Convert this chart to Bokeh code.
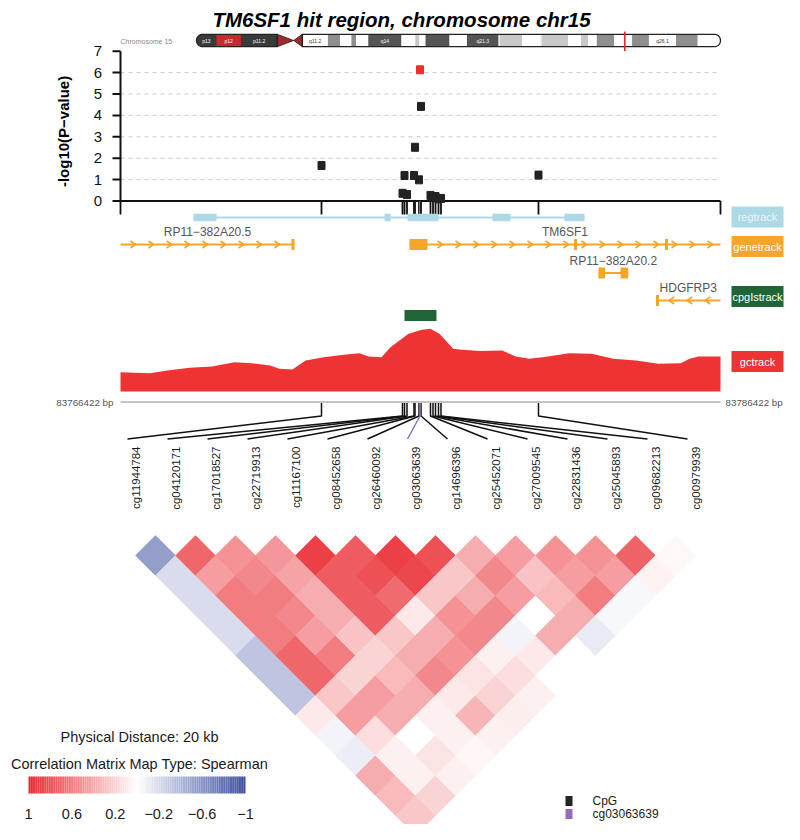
import math
from bokeh.plotting import figure
from bokeh.models import Range1d
from bokeh.embed import file_html
from bokeh.resources import INLINE
from bokeh.core.properties import value

FONT = value("Liberation Sans")

# ======================= data =======================
plot_title = "TM6SF1 hit region, chromosome chr15"
chrom_label = "Chromosome 15"
chrom_length_mb = 102.5
region_start = 83766422
region_end = 83786422
distance_label = "Physical Distance: 20 kb"
matrix_label = "Correlation Matrix Map Type: Spearman"

band_names = ["p13", "p12", "p11.2", "p11.1", "q11.1", "q11.2", "q12", "q13.1", "q13.2", "q13.3",
              "q14", "q15.1", "q15.2", "q15.3", "q21.1", "q21.2", "q21.3", "q22.1", "q22.2", "q22.31",
              "q22.32", "q22.33", "q23", "q24.1", "q24.2", "q24.3", "q25.1", "q25.2", "q25.3", "q26.1",
              "q26.2", "q26.3"]
band_start_mb = [0.0, 3.9, 8.7, 15.8, 19.0, 20.7, 25.7, 28.1, 30.3, 31.2, 33.6, 40.1, 42.8, 43.6, 44.8,
                 49.5, 52.9, 59.1, 59.3, 63.7, 67.2, 67.3, 67.5, 72.7, 75.2, 76.6, 78.3, 81.7, 85.2,
                 88.5, 93.8, 98.0]
band_end_mb = [3.9, 8.7, 15.8, 19.0, 20.7, 25.7, 28.1, 30.3, 31.2, 33.6, 40.1, 42.8, 43.6, 44.8, 49.5,
               52.9, 59.1, 59.3, 63.7, 67.2, 67.3, 67.5, 72.7, 75.2, 76.6, 78.3, 81.7, 85.2, 88.5,
               93.8, 98.0, 102.5]
band_stain = ["gvar", "stalk", "gvar", "acen", "acen", "gneg", "gpos50", "gneg", "gpos50", "gneg",
              "gpos75", "gneg", "gpos25", "gneg", "gpos75", "gneg", "gpos75", "gneg", "gpos25", "gneg",
              "gpos25", "gneg", "gpos25", "gneg", "gpos25", "gneg", "gpos50", "gneg", "gpos50", "gneg",
              "gpos50", "gneg"]
labelled_bands = ["p13", "p12", "p11.2", "q11.2", "q14", "q21.3", "q26.1"]

cpg_names = ["cg11944784", "cg04120171", "cg17018527", "cg22719913", "cg11167100",
             "cg08452658", "cg26460092", "cg03063639", "cg14696396", "cg25452071",
             "cg27009545", "cg22831436", "cg25045893", "cg09682213", "cg00979939"]
cpg_pos = [83773122, 83775822, 83775889, 83775972, 83776205, 83776239, 83776372,
           83776405, 83776439, 83776755, 83776839, 83776922, 83777022, 83777105, 83780355]
cpg_logp = [1.66, 0.36, 1.19, 0.30, 1.19, 2.51, 0.99, 6.13, 4.42, 0.26, 0.18, 0.21, 0.10, 0.12, 1.21]
lead_cpg = "cg03063639"
pv_ticks = [0, 1, 2, 3, 4, 5, 6, 7]
pv_grid = [1, 2, 3, 4, 5, 6]
pv_title = "-log10(P\u2212value)"

reg_span = [83768855, 83781889]
reg_start = [83768855, 83775222, 83775989, 83778822, 83781222]
reg_end = [83769622, 83775422, 83777022, 83779422, 83781889]

gene_names = ["RP11\u2212382A20.5", "TM6SF1", "RP11\u2212382A20.2", "HDGFRP3"]
gene_start = [83766422, 83776055, 83782355, 83784272]
gene_end = [83772222, 83786422, 83783345, 83786422]
gene_strand = ["+", "+", "+", "-"]
gene_row = [0, 0, 1, 2]
exon_gene = [0, 1, 1, 1, 2, 2, 3]
exon_start = [83772122, 83776055, 83781539, 83784572, 83782355, 83783089, 83784272]
exon_end = [83772222, 83776655, 83781639, 83784672, 83782572, 83783345, 83784372]

cpg_island_start = [83775889]
cpg_island_end = [83776955]

gc_pos_kb = [0.0, 0.97, 1.57, 2.3, 3.05, 3.8, 4.39, 4.99, 5.29, 5.73, 6.17, 6.77, 7.52, 7.97, 8.27,
             8.7, 9.0, 9.6, 10.05, 10.33, 10.63, 11.09, 11.39, 11.98, 12.73, 13.17, 13.62, 14.07,
             14.96, 15.7, 16.43, 17.19, 17.93, 18.67, 18.97, 19.27, 20.0]
gc_frac = [0.452, 0.447, 0.461, 0.476, 0.483, 0.505, 0.500, 0.488, 0.470, 0.467, 0.514, 0.532, 0.546,
           0.553, 0.536, 0.532, 0.585, 0.656, 0.677, 0.682, 0.656, 0.576, 0.571, 0.564, 0.567, 0.536,
           0.523, 0.532, 0.553, 0.550, 0.523, 0.514, 0.497, 0.500, 0.523, 0.536, 0.536]
gc_floor = 0.35

# Spearman correlations, upper triangle: row i holds r(i, j) for j = i+1 .. 14
corr_upper = [
    [-0.55, -0.20, -0.20, -0.20, -0.20, -0.33, -0.33, -0.33, 0.10, -0.06, -0.10, 0.38, 0.32, 0.26],
    [0.70, 0.45, 0.60, 0.60, 0.60, 0.70, 0.70, 0.26, 0.45, 0.15, 0.07, 0.07, 0.20],
    [0.50, 0.55, 0.60, 0.55, 0.45, 0.60, 0.20, 0.45, 0.38, 0.00, 0.13, 0.07],
    [0.48, 0.42, 0.38, 0.38, 0.28, 0.20, 0.32, 0.38, 0.07, 0.07, 0.04],
    [0.88, 0.75, 0.75, 0.75, 0.26, 0.38, 0.55, 0.10, 0.34, 0.07],
    [0.75, 0.80, 0.68, 0.10, 0.38, 0.50, 0.13, 0.20, 0.08],
    [0.88, 0.85, 0.26, 0.50, 0.55, 0.07, 0.15, 0.07],
    [0.80, 0.26, 0.38, 0.55, -0.06, 0.10, 0.00],
    [0.38, 0.55, 0.45, 0.00, 0.38, 0.00],
    [0.45, 0.28, 0.32, 0.38, -0.12],
    [0.50, 0.45, 0.60, -0.04],
    [0.50, 0.45, -0.04],
    [0.72, 0.06],
    [0.03],
]
cbar_ticks = [1, 0.6, 0.2, -0.2, -0.6, -1]

track_names = ["regtrack", "genetrack", "cpgIstrack", "gctrack"]
track_colors = ["#ADD8E6", "#F5A52A", "#1F6535", "#EE3333"]
legend_names = ["CpG", lead_cpg]
legend_colors = ["#222222", "#946CB8"]

# ======================= layout / scales =======================
W, H = 784, 824
GX0, GX1 = 120.0, 720.0
PX_BP = (GX1 - GX0) / (region_end - region_start)


def gen_at(px):
    return region_start + (px - GX0) / PX_BP


PV0, PVU = 200.5, 21.4          # pixel of -log10 p = 0 and pixels per unit
GC0, GCU = 391.0, 0.0053        # pixel of gc_floor and gc fraction per pixel
IX0 = 196.0
MB_PX = 524.0 / chrom_length_mb
HX0, HY0, HS = 135.0, 535.0, 20.0   # heatmap origin and half-diagonal
CB0, CBW = 28.0, 217.0               # colour bar left and width

p = figure(width=W, height=H, x_range=Range1d(0, W), y_range=Range1d(H, 0),
           output_backend="svg", toolbar_location=None, min_border=0,
           x_axis_type=None, y_axis_type=None, outline_line_color=None)
p.background_fill_color = "white"
p.border_fill_color = "white"

p.extra_x_ranges = {
    "gen": Range1d(gen_at(0), gen_at(W)),
    "chr": Range1d((0 - IX0) / MB_PX, (W - IX0) / MB_PX),
    "hm": Range1d((0 - HX0) / HS, (W - HX0) / HS),
    "cb": Range1d(1 - 2 * (0 - CB0) / CBW, 1 - 2 * (W - CB0) / CBW),
}
p.extra_y_ranges = {
    "pv": Range1d((PV0 - H) / PVU, (PV0 - 0) / PVU),
    "gc": Range1d(gc_floor + (GC0 - H) * GCU, gc_floor + (GC0 - 0) * GCU),
    "hm": Range1d((H - HY0) / HS, (0 - HY0) / HS),
}


def txt(x, y, t, size, **kw):
    kw.setdefault("text_color", "#000000")
    p.text(x=x, y=y, text=t, text_font=FONT, text_font_size=size, **kw)


# ----- title -----
txt([401], [19], [plot_title], "20.5px", text_font_style="bold italic", text_align="center",
    text_baseline="alphabetic")

# ----- ideogram -----
ITOP, IBOT, IMID, IR = 33.8, 46.2, 40.0, 6.2
stain_color = {"gneg": "#FFFFFF", "gpos25": "#C8C8C8", "gpos50": "#8E8E8E", "gpos75": "#555555",
               "gvar": "#3A3A3A", "stalk": "#C9282E", "acen": "#9E2A2A"}
r_mb = IR / MB_PX
p_end = band_end_mb[band_names.index("p11.2")]
cen = band_end_mb[band_names.index("p11.1")]
q_beg = band_end_mb[band_names.index("q11.1")]
L = band_end_mb[-1]

pxs, pys = [p_end], [ITOP]
for t in range(21):
    th = math.pi / 2 + math.pi * t / 20
    pxs.append(r_mb + r_mb * math.cos(th))
    pys.append(IMID - IR * math.sin(th))
pxs.append(p_end)
pys.append(IBOT)
qxs, qys = [q_beg], [IBOT]
for t in range(21):
    th = -math.pi / 2 + math.pi * t / 20
    qxs.append(L - r_mb + r_mb * math.cos(th))
    qys.append(IMID - IR * math.sin(th))
qxs.append(q_beg)
qys.append(ITOP)

p.patch(pxs, pys, x_range_name="chr", fill_color=stain_color[band_stain[0]], line_color=None)
p.patch(qxs, qys, x_range_name="chr", fill_color=stain_color[band_stain[-1]], line_color=None)
inner = [k for k in range(1, len(band_names) - 1) if band_stain[k] != "acen"]
p.quad(left=[band_start_mb[k] for k in inner], right=[band_end_mb[k] for k in inner],
       top=ITOP, bottom=IBOT, x_range_name="chr",
       fill_color=[stain_color[band_stain[k]] for k in inner], line_color=None)
p.patches([[p_end, p_end, cen], [cen, q_beg, q_beg]], [[ITOP, IBOT, IMID], [IMID, ITOP, IBOT]],
          x_range_name="chr", fill_color=stain_color["acen"], line_color="#222222", line_width=0.8)
p.patch(pxs, pys, x_range_name="chr", fill_color=None, line_color="#222222", line_width=1.3)
p.patch(qxs, qys, x_range_name="chr", fill_color=None, line_color="#222222", line_width=1.3)
lb = [band_names.index(n) for n in labelled_bands]
txt([(band_start_mb[k] + band_end_mb[k]) / 2 for k in lb], [IMID] * len(lb),
    [band_names[k] for k in lb], "5px", x_range_name="chr", text_align="center",
    text_baseline="middle",
    text_color=["#333333" if band_stain[k] in ("gneg", "gpos25") else "#FFFFFF" for k in lb])
mark_mb = (region_start + region_end) / 2 / 1e6
p.segment(x0=[mark_mb], y0=[31.0], x1=[mark_mb], y1=[50.5], x_range_name="chr",
          line_color="#E8232B", line_width=1.6)
txt([120], [40.5], [chrom_label], "7px", text_color="#8A8A8A", text_baseline="middle")

# ----- Manhattan panel -----
p.multi_line(xs=[[region_start, region_end] for _ in pv_grid], ys=[[v, v] for v in pv_grid],
             x_range_name="gen", y_range_name="pv", line_color="#C8C8C8", line_dash="4 4",
             line_width=1)
p.segment(x0=[region_start], y0=[0], x1=[region_start], y1=[max(pv_ticks)],
          x_range_name="gen", y_range_name="pv", line_color="#111111", line_width=2)
p.segment(x0=[GX0 - 8] * len(pv_ticks), y0=pv_ticks, x1=[GX0] * len(pv_ticks), y1=pv_ticks,
          y_range_name="pv", line_color="#111111", line_width=2)
txt([97.5] * len(pv_ticks), pv_ticks, [str(v) for v in pv_ticks], "15px", y_range_name="pv",
    text_align="center", text_baseline="middle", text_color="#111111")
txt([62.5], [(max(pv_ticks) + min(pv_ticks)) / 2 - 0.25], [pv_title], "15px", y_range_name="pv",
    text_font_style="bold", angle=math.pi / 2, text_align="center", text_baseline="middle")
p.segment(x0=[region_start], y0=[0], x1=[region_end], y1=[0], x_range_name="gen",
          y_range_name="pv", line_color="#111111", line_width=2)
tick_pos = [region_start, region_end] + cpg_pos
tick_col = ["#111111", "#111111"] + [legend_colors[1] if n == lead_cpg else "#111111"
                                     for n in cpg_names]
p.segment(x0=tick_pos, y0=[PV0] * len(tick_pos), x1=tick_pos, y1=[214] * len(tick_pos),
          x_range_name="gen", line_color=tick_col, line_width=1.8)
others = [k for k, n in enumerate(cpg_names) if n != lead_cpg]
lead = cpg_names.index(lead_cpg)
p.rect(x=[cpg_pos[k] for k in others], y=[cpg_logp[k] for k in others], width=7, height=8,
       width_units="screen", height_units="screen", x_range_name="gen", y_range_name="pv",
       fill_color="#222222", line_color="#222222")
p.rect(x=[cpg_pos[lead]], y=[cpg_logp[lead]], width=7, height=8, width_units="screen",
       height_units="screen", x_range_name="gen", y_range_name="pv",
       fill_color="#EE2C2C", line_color="#EE2C2C")

# ----- regulation track -----
REG_Y = 217.0
p.segment(x0=[reg_span[0]], y0=[REG_Y], x1=[reg_span[1]], y1=[REG_Y], x_range_name="gen",
          line_color=track_colors[0], line_width=2)
p.quad(left=reg_start, right=reg_end, top=REG_Y - 3.8, bottom=REG_Y + 3.8, x_range_name="gen",
       fill_color=track_colors[0], line_color=None)

# ----- gene track -----
ROW_Y = [244.0, 272.5, 300.0]
GCOL = track_colors[1]
p.segment(x0=gene_start, y0=[ROW_Y[r] for r in gene_row], x1=gene_end,
          y1=[ROW_Y[r] for r in gene_row], x_range_name="gen", line_color=GCOL, line_width=2)
p.quad(left=exon_start, right=exon_end, top=[ROW_Y[gene_row[g]] - 5.5 for g in exon_gene],
       bottom=[ROW_Y[gene_row[g]] + 5.5 for g in exon_gene], x_range_name="gen",
       fill_color=GCOL, line_color=None)
chev_x, chev_y = [], []
half_w = 2.6 / PX_BP
for g in range(len(gene_names)):
    ex = [(exon_start[k], exon_end[k]) for k in range(len(exon_gene)) if exon_gene[k] == g]
    free = gene_start[g]
    for s, e in sorted(ex):
        if s <= free + 10:
            free = max(free, e)
    c = free + 420
    y = ROW_Y[gene_row[g]]
    while c < gene_end[g] - 80:
        if all(c < s - 150 or c > e + 150 for s, e in ex):
            if gene_strand[g] == "+":
                chev_x.append([c - half_w, c + half_w, c - half_w])
            else:
                chev_x.append([c + half_w, c - half_w, c + half_w])
            chev_y.append([y - 3.5, y, y + 3.5])
        c += 600
p.multi_line(xs=chev_x, ys=chev_y, x_range_name="gen", line_color=GCOL, line_width=1.6)
txt([(gene_start[g] + gene_end[g]) / 2 for g in range(len(gene_names))],
    [ROW_Y[r] - 12.5 for r in gene_row], gene_names, "12px", x_range_name="gen",
    text_align="center", text_baseline="middle", text_color="#555555")

# ----- CpG island track -----
p.quad(left=cpg_island_start, right=cpg_island_end, top=309.5, bottom=320.5, x_range_name="gen",
       fill_color=track_colors[2], line_color=None)

# ----- GC track -----
gc_pos = [region_start + kb * 1000 for kb in gc_pos_kb]
p.varea(x=gc_pos, y1=[gc_floor] * len(gc_pos), y2=gc_frac, x_range_name="gen",
        y_range_name="gc", fill_color=track_colors[3])

# ----- track labels -----
TRK_Y = [216.5, 246.0, 296.0, 361.0]
p.quad(left=[731] * 4, right=[783] * 4, top=[y - 10.5 for y in TRK_Y],
       bottom=[y + 10.5 for y in TRK_Y], fill_color=track_colors, line_color=None)
txt([757] * 4, TRK_Y, track_names, "11px", text_align="center", text_baseline="middle",
    text_color=["#EAF6FA", "#FFFFFF", "#FFFFFF", "#FFFFFF"])

# ----- genome axis and connectors -----
LINE_Y = 401.5
p.segment(x0=[region_start], y0=[LINE_Y], x1=[region_end], y1=[LINE_Y], x_range_name="gen",
          line_color="#C4C4C4", line_width=2)
txt([113], [LINE_Y], ["%d bp" % region_start], "9.8px", text_align="right",
    text_baseline="middle", text_color="#555555")
txt([725], [LINE_Y], ["%d bp" % region_end], "9.8px", text_align="left",
    text_baseline="middle", text_color="#555555")
slot_px = [HX0 - 8 + 2 * HS * k for k in range(len(cpg_names))]
con_x = [[cpg_pos[k], cpg_pos[k], gen_at(slot_px[k])] for k in others]
con_y = [[LINE_Y + 1, 415.5, 438.5] for _ in others]
p.multi_line(xs=con_x, ys=con_y, x_range_name="gen", line_color="#111111", line_width=1.5)
p.multi_line(xs=[[cpg_pos[lead], cpg_pos[lead], gen_at(slot_px[lead])]],
             ys=[[LINE_Y + 1, 415.5, 438.5]], x_range_name="gen",
             line_color=legend_colors[1], line_width=1.5)
txt([HX0 + 2 * HS * k for k in range(len(cpg_names))], [446] * len(cpg_names), cpg_names,
    "11.5px", angle=math.pi / 2, text_align="right", text_baseline="middle",
    text_color="#1A1A1A")

# ----- correlation heatmap -----
RED, BLUE = (232, 38, 44), (60, 78, 160)


def corr_color(r):
    t = min(abs(r), 1.0)
    tgt = RED if r >= 0 else BLUE
    c = [round(255 + (tgt[k] - 255) * t) for k in range(3)]
    return "#%02x%02x%02x" % tuple(c)


hx, hy, hc = [], [], []
for i, row in enumerate(corr_upper):
    for off, r in enumerate(row):
        j = i + 1 + off
        u, v = i + j, j - i
        hx.append([u - 1, u, u + 1, u])
        hy.append([v, v - 1, v, v + 1])
        hc.append(corr_color(r))
p.patches(hx, hy, x_range_name="hm", y_range_name="hm", fill_color=hc, line_color=hc,
          line_width=0.6)

# ----- colour legend -----
txt([139], [736], [distance_label], "14.5px", text_align="center", text_baseline="middle",
    text_color="#1A1A1A")
txt([139], [763], [matrix_label], "14.5px", text_align="center", text_baseline="middle",
    text_color="#1A1A1A")
NSTEP = 120
edges = [1 - 2 * k / NSTEP for k in range(NSTEP + 1)]
p.quad(left=edges[:-1], right=edges[1:], top=776, bottom=793, x_range_name="cb",
       fill_color=[corr_color((edges[k] + edges[k + 1]) / 2) for k in range(NSTEP)],
       line_color=None)
txt(cbar_ticks, [813] * len(cbar_ticks),
    [("%g" % v).replace("-", "\u2212") for v in cbar_ticks], "14.5px", x_range_name="cb",
    text_align="center", text_baseline="middle", text_color="#1A1A1A")

# ----- CpG legend -----
p.rect(x=[568.5, 568.5], y=[800.5, 813.5], width=7, height=10, fill_color=legend_colors,
       line_color=None)
txt([592, 592], [800.5, 813.5], legend_names, "12px", text_baseline="middle",
    text_color="#1A1A1A")

open("out.html", "w").write(file_html(p, INLINE))
